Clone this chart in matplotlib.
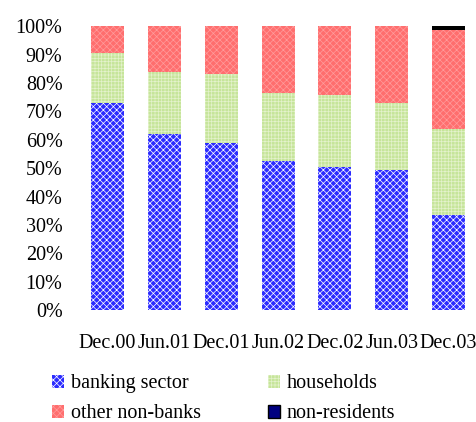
import numpy as np
import matplotlib.pyplot as plt
from matplotlib.patches import Patch

plt.rcParams["font.family"] = ["Liberation Serif", "DejaVu Serif"]
plt.rcParams["hatch.linewidth"] = 0.5

# ── Data (shares in %) ───────────────────────────────────────────────
periods = ["Dec.00", "Jun.01", "Dec.01", "Jun.02", "Dec.02", "Jun.03", "Dec.03"]
banking = [72.9, 62.0, 58.8, 52.5, 50.4, 49.3, 33.5]
households = [17.7, 21.8, 24.3, 23.9, 25.3, 23.6, 30.2]
non_banks = [9.4, 16.2, 16.9, 23.6, 24.3, 27.1, 34.9]
non_residents = [0.0, 0.0, 0.0, 0.0, 0.0, 0.0, 1.4]

series = [
    ("banking sector", banking, "#2b2bff", "white", "xxxxx"),
    ("households", households, "#c6e59a", "#e4f2cc", "+++++"),
    ("other non-banks", non_banks, "#ff6e6e", "#ff9c9c", "xxxxx"),
    ("non-residents", non_residents, "black", "black", None),
]

fig = plt.figure(figsize=(4.77, 4.22), dpi=100)
ax = fig.add_axes([0.166, 0.265, 0.834, 0.673])

x = np.arange(len(periods))
bottom = np.zeros(len(periods))
for name, vals, fc, hc, hatch in series:
    vals = np.array(vals)
    ax.bar(x, vals, width=0.58, bottom=bottom, color=fc, edgecolor=hc,
           hatch=hatch, linewidth=0)
    bottom += vals

ax.set_ylim(0, 100)
ax.set_xlim(-0.5, 6.5)
ax.set_yticks(np.arange(0, 101, 10))
ax.set_yticklabels([f"{v}%" for v in range(0, 101, 10)], fontsize=14.5)
ax.set_xticks(x)
ax.set_xticklabels(periods, fontsize=14.5)
ax.tick_params(axis="both", length=0)
ax.tick_params(axis="x", pad=17)
ax.tick_params(axis="y", pad=12)
for s in ax.spines.values():
    s.set_visible(False)

handles = [
    Patch(facecolor="#2b2bff", edgecolor="white", hatch="xxxxx", linewidth=0, label="banking sector"),
    Patch(facecolor="#c6e59a", edgecolor="#e4f2cc", hatch="+++++", linewidth=0, label="households"),
    Patch(facecolor="#ff6e6e", edgecolor="#ff9c9c", hatch="xxxxx", linewidth=0, label="other non-banks"),
    Patch(facecolor="#000080", edgecolor="black", linewidth=1, label="non-residents"),
]
# column-major order for ncol=2: banking, other, households, non-residents
order = [0, 2, 1, 3]
fig.legend([handles[i] for i in order], [handles[i].get_label() for i in order],
           loc="lower left", bbox_to_anchor=(0.105, -0.008), ncol=2, frameon=False,
           fontsize=14.5, handlelength=0.6, handleheight=0.6, handletextpad=0.35,
           columnspacing=3.3, labelspacing=0.55, borderpad=0.1,
           borderaxespad=0.0)

fig.savefig("out.png", dpi=100)
